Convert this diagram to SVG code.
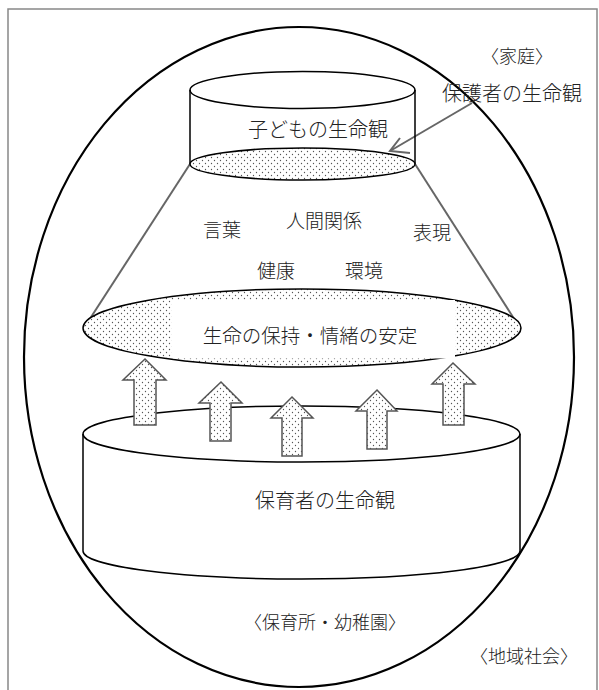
<svg xmlns="http://www.w3.org/2000/svg" width="599" height="690" viewBox="0 0 599 690">
<style>
.t{font-family:"Noto Sans CJK JP","Noto Sans CJK SC",sans-serif;font-weight:300;fill:#222;text-anchor:middle}
.o{fill:none;stroke:#000;stroke-width:1.5}
.g{stroke:#666;stroke-width:2;fill:none}
.blk{stroke:#555;stroke-width:1.5;fill:url(#dots)}
</style>
<defs>
<pattern id="dots" width="6" height="6" patternUnits="userSpaceOnUse">
<rect width="6" height="6" fill="#fff"/>
<circle cx="1.5" cy="1.5" r="0.65" fill="#555"/>
<circle cx="4.5" cy="4.5" r="0.65" fill="#555"/>
</pattern>
</defs>
<rect width="599" height="690" fill="#fff"/>
<rect x="8" y="9" width="589" height="700" fill="none" stroke="#888" stroke-width="1.5"/>
<g id="community">
<ellipse cx="299" cy="357" rx="275" ry="330" fill="none" stroke="#000" stroke-width="2.2"/>
<text class="t" x="524" y="663" font-size="18">〈地域社会〉</text>
</g>
<g id="nursery-label">
<text class="t" x="325" y="629" font-size="18">〈保育所・幼稚園〉</text>
</g>
<g id="home">
<text class="t" x="517" y="63" font-size="18">〈家庭〉</text>
<text class="t" x="512" y="101" font-size="20">保護者の生命観</text>
</g>
<g id="connectors">
<line class="g" x1="190" y1="164" x2="84" y2="328"/>
<line class="g" x1="415" y1="164" x2="520" y2="328"/>
<line class="g" x1="472" y1="103" x2="390" y2="151"/>
<polyline class="g" points="400,138 390,151 410,153"/>
</g>
<g id="child-cylinder">
<path class="o" d="M190,90 V164 M415,90 V164"/>
<ellipse class="o" cx="302.5" cy="90" rx="112.5" ry="18.5" fill="#fff"/>
<ellipse class="o" cx="302.5" cy="164" rx="112.5" ry="16" style="fill:url(#dots)"/>
<text class="t" x="318" y="137" font-size="20">子どもの生命観</text>
</g>
<g id="areas">
<text class="t" x="222" y="237" font-size="19">言葉</text>
<text class="t" x="324" y="228" font-size="19">人間関係</text>
<text class="t" x="432" y="240" font-size="19">表現</text>
<text class="t" x="276" y="278" font-size="19">健康</text>
<text class="t" x="364" y="278" font-size="19">環境</text>
</g>
<g id="base-ellipse">
<ellipse cx="302" cy="328" rx="219" ry="39" style="fill:url(#dots);stroke:#000;stroke-width:1.5"/>
<rect x="172" y="300" width="283" height="58.5" fill="#fff"/>
<text class="t" x="310" y="343" font-size="19.5">生命の保持・情緒の安定</text>
</g>
<g id="caregiver-cylinder">
<path class="o" d="M83,434 V551 A218.5,28 0 0 0 520,551 V434"/>
<ellipse class="o" cx="301.5" cy="434" rx="218.5" ry="28" fill="#fff"/>
<text class="t" x="325" y="508" font-size="20">保育者の生命観</text>
</g>
<g id="arrows">
<polygon class="blk" points="145,359 166,380 156,380 156,425 134,425 134,380 123,380"/>
<polygon class="blk" points="221,382 242,403 231,403 231,441 210,441 210,403 199,403"/>
<polygon class="blk" points="292,397 313,418 302,418 302,456 282,456 282,418 271,418"/>
<polygon class="blk" points="377,390 397,411 387,411 387,449 367,449 367,411 356,411"/>
<polygon class="blk" points="453,363 475,384 464,384 464,425 443,425 443,384 432,384"/>
</g>
</svg>
